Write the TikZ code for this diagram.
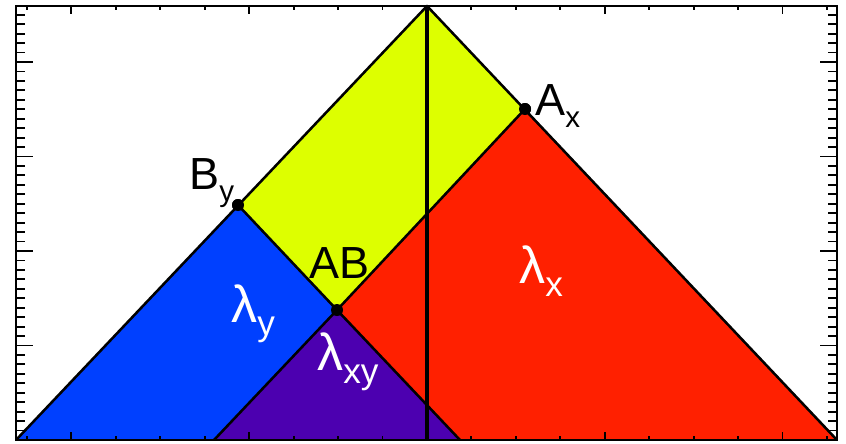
\documentclass[tikz,border=0pt]{standalone}
\usepackage{fontspec}
\setmainfont{Liberation Sans}
\usetikzlibrary{positioning}
\definecolor{cYellow}{HTML}{DDFF00}
\definecolor{cBlue}{HTML}{0040FF}
\definecolor{cRed}{HTML}{FF2000}
\definecolor{cPurple}{HTML}{4C00B0}
\newcommand{\lsub}[1]{\raisebox{-0.27em}{\fontsize{21}{21}\selectfont #1}}
\newcommand{\lam}[1]{{\fontsize{37}{40}\selectfont λ}\raisebox{-0.3em}{\fontsize{25}{25}\selectfont #1}}

\begin{document}
\begin{tikzpicture}[
    x=0.025cm, y=-0.025cm,
    font=\fontsize{32}{35}\selectfont,
    edge/.style={line width=1.8pt, line join=round},
    dot/.style={circle, fill=black, inner sep=0pt, minimum size=0.3cm},
    lbl/.style={anchor=base west, inner sep=0pt},
    wlbl/.style={lbl, text=white},
]
\useasboundingbox (0,0) rectangle (846,443);

% ================================================================
%  Corners of the light cone
% ================================================================
\coordinate (apex) at (427,6);
\coordinate (bl)   at (16,440);
\coordinate (br)   at (837,440);
\coordinate (pl)   at (214,440);
\coordinate (pr)   at (460,440);
\coordinate (vt)   at (427,6);
\coordinate (vb)   at (427,440);

\node[dot] (By) at (238,205) {};
\node[dot] (Ax) at (525,109) {};
\node[dot] (AB) at (337,310) {};

% ================================================================
%  Regions
% ================================================================
\fill[cYellow] (apex.center) -- (Ax.center) -- (AB.center) -- (By.center) -- cycle;
\fill[cRed]    (Ax.center) -- (br) -- (pr) -- (AB.center) -- cycle;
\fill[cBlue]   (By.center) -- (AB.center) -- (pl) -- (bl) -- cycle;
\fill[cPurple] (AB.center) -- (pr) -- (pl) -- cycle;

% edges
\draw[edge] (bl) -- (apex) -- (br);
\draw[edge] (By.center) -- (AB.center) -- (pr);
\draw[edge] (Ax.center) -- (AB.center) -- (pl);
\draw[line width=2.4pt] (vt) -- (vb);

% dots on top
\node[dot] at (By) {};
\node[dot] at (Ax) {};
\node[dot] at (AB) {};

% ================================================================
%  Labels
% ================================================================
\node[lbl]  (lBy) at (189,189) {B\lsub{y}};
\node[lbl]  (lAx) at (535,115) {A\lsub{x}};
\node[lbl]  (lAB) at (309,278) {AB};
\node[wlbl] (ly)  at (231,322) {\lam{y}};
\node[wlbl] (lxy) at (317,370) {\lam{xy}};
\node[wlbl] (lx)  at (519,283) {\lam{x}};

% ================================================================
%  Frame and ticks
% ================================================================
\foreach \k in {0,...,18} {
  \pgfmathsetmacro{\tx}{26.9+44.45*\k}
  \pgfmathtruncatemacro{\ismaj}{mod(\k-1,4)==0 ? 1 : 0}
  \ifnum\ismaj=1
    \draw[line width=1.3pt] (\tx,440) -- ++(0,-8) (\tx,6) -- ++(0,8);
  \else
    \draw[line width=1.3pt] (\tx,440) -- ++(0,-4) (\tx,6) -- ++(0,4);
  \fi
}
\foreach \k in {1,...,45} {
  \pgfmathsetmacro{\ty}{440-9.45*\k}
  \pgfmathtruncatemacro{\ismaj}{mod(\k,10)==0 ? 1 : 0}
  \ifnum\ismaj=1
    \draw[line width=1.3pt] (16,\ty) -- ++(17,0) (837,\ty) -- ++(-17,0);
  \else
    \draw[line width=1.3pt] (16,\ty) -- ++(9,0) (837,\ty) -- ++(-9,0);
  \fi
}
\draw[line width=1.6pt] (16,6) rectangle (837,440);
\end{tikzpicture}
\end{document}
